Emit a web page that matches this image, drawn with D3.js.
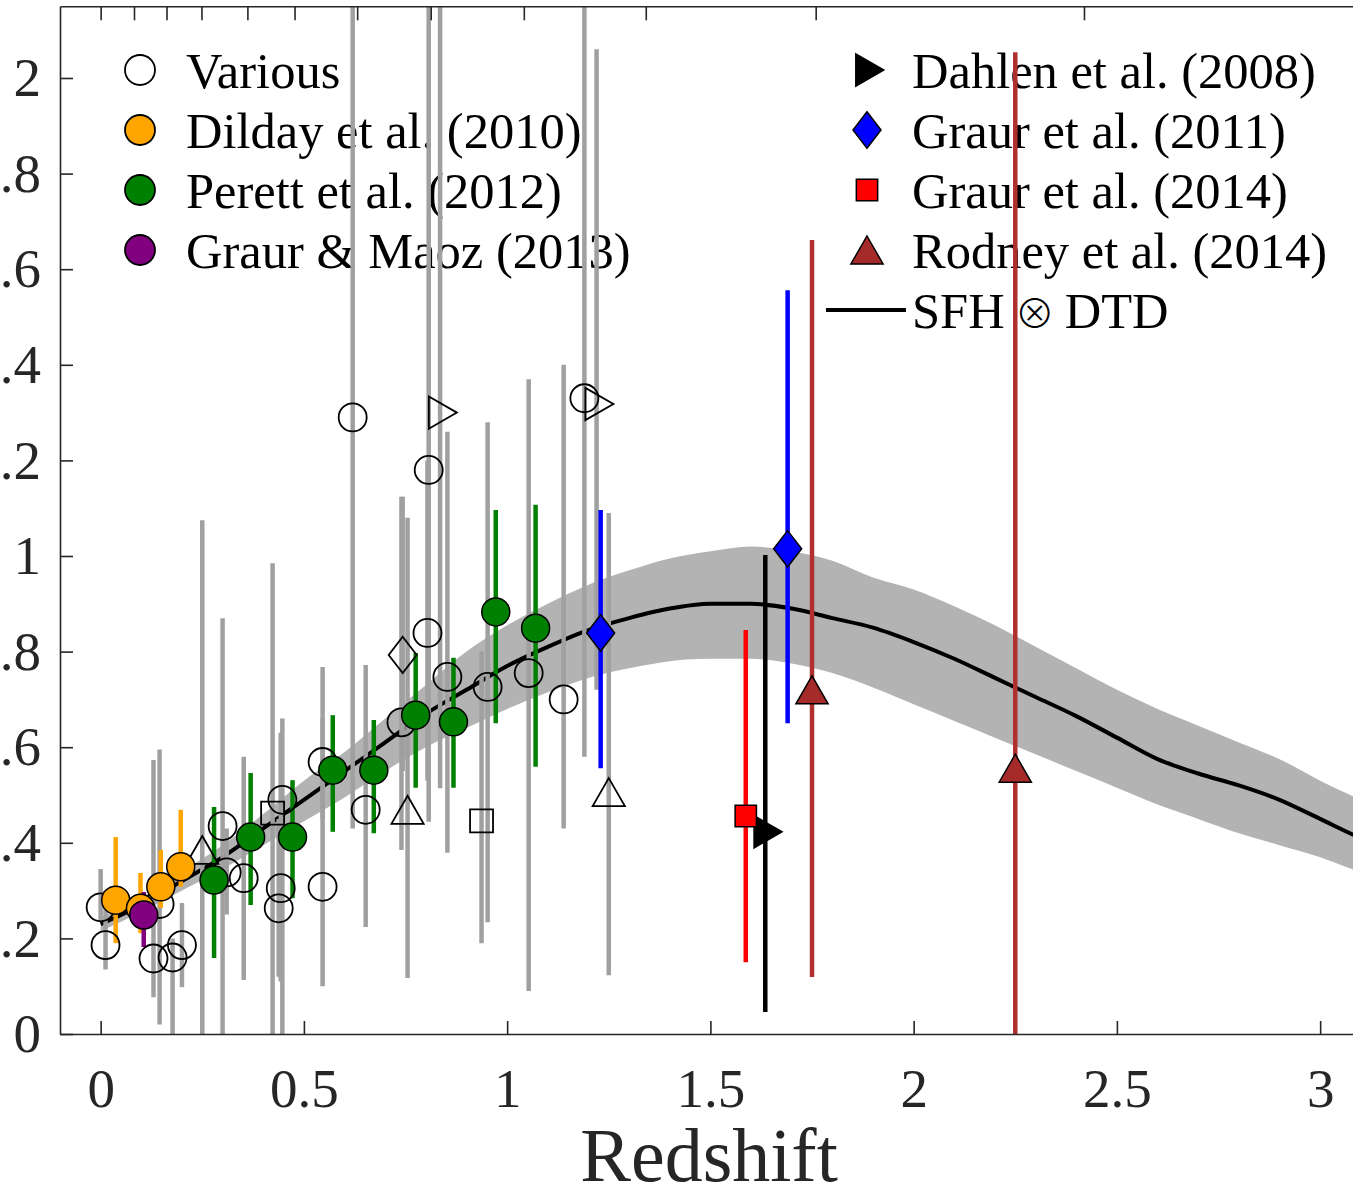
<!DOCTYPE html>
<html>
<head>
<meta charset="utf-8">
<script src="https://cdn.jsdelivr.net/npm/d3@7"></script>
<style>
  body { margin: 0; background: #fff; }
  svg { display: block; }
</style>
</head>
<body>
<div id="my_dataviz"></div>
<script>
// ---------------------------  DATA  ---------------------------

// SFH (x) DTD model: redshift grid, median and 1-sigma band
const modelZ   = [0, 0.1, 0.2, 0.3, 0.4, 0.5, 0.6, 0.7, 0.8, 0.9, 1.0, 1.1, 1.2, 1.3, 1.4, 1.5, 1.6,
                  1.7, 1.8, 1.9, 2.0, 2.1, 2.2, 2.3, 2.4, 2.5, 2.6, 2.7, 2.8, 2.9, 3.0, 3.1, 3.2];
const modelMid = [0.23, 0.27, 0.32, 0.37, 0.43, 0.49, 0.55, 0.61, 0.67, 0.72, 0.77, 0.81, 0.845, 0.87, 0.89, 0.90, 0.90,
                  0.89, 0.87, 0.85, 0.82, 0.785, 0.745, 0.705, 0.665, 0.62, 0.575, 0.545, 0.52, 0.49, 0.45, 0.41, 0.38];
const modelLo  = [0.215, 0.255, 0.30, 0.345, 0.395, 0.445, 0.495, 0.55, 0.60, 0.64, 0.68, 0.715, 0.745, 0.765, 0.78, 0.785, 0.785,
                  0.775, 0.755, 0.725, 0.69, 0.655, 0.62, 0.585, 0.55, 0.515, 0.48, 0.45, 0.42, 0.395, 0.37, 0.338, 0.31];
const modelHi  = [0.245, 0.285, 0.34, 0.395, 0.46, 0.53, 0.59, 0.66, 0.73, 0.80, 0.855, 0.90, 0.94, 0.97, 0.995, 1.01, 1.02,
                  1.01, 0.99, 0.955, 0.93, 0.895, 0.855, 0.81, 0.765, 0.72, 0.68, 0.645, 0.61, 0.575, 0.53, 0.49, 0.455];

// measurements: [redshift, rate, lower, upper]
const variousCircles = [
  [0.00, 0.265, 0.235, 0.345], [0.012, 0.186, 0.135, 0.30], [0.13, 0.158, 0.077, 0.573],
  [0.145, 0.272, 0.02, 0.595], [0.177, 0.160, -0.1, 0.20], [0.20, 0.186, 0.098, 0.274],
  [0.30, 0.435, -0.1, 0.87], [0.31, 0.338, 0.25, 0.43], [0.352, 0.326, 0.113, 0.58],
  [0.447, 0.490, -0.1, 0.66], [0.443, 0.305, 0.11, 0.63], [0.438, 0.263, 0.12, 0.45],
  [0.546, 0.308, 0.10, 0.768], [0.546, 0.569, 0.45, 0.66], [0.62, 1.29, 0.43, 3.0],
  [0.652, 0.469, 0.224, 0.772], [0.74, 0.652, 0.385, 1.124], [0.807, 1.18, 0.444, 3.0],
  [0.804, 0.839, 0.53, 1.20], [0.853, 0.747, 0.379, 1.26], [0.952, 0.726, 0.234, 1.28],
  [1.053, 0.755, 0.09, 1.37], [1.139, 0.70, 0.43, 1.40], [1.19, 1.33, 0.58, 3.0]
];
const variousTriangles = [[0.25, 0.385, -0.1, 1.075], [0.755, 0.469, 0.117, 1.08], [1.25, 0.506, 0.123, 1.09]];
const variousSquares   = [[0.423, 0.462, -0.1, 0.985], [0.937, 0.446, 0.19, 0.80]];
const variousDiamonds  = [[0.743, 0.793, 0.55, 1.124]];
const variousRight     = [[0.835, 1.30, 0.514, 3.0], [1.22, 1.318, 0.72, 2.06]];

const dilday = [[0.037, 0.28, 0.19, 0.412], [0.098, 0.263, 0.211, 0.337], [0.148, 0.308, 0.264, 0.385], [0.197, 0.35, 0.308, 0.469]];
const perrett = [
  [0.279, 0.322, 0.159, 0.475], [0.369, 0.412, 0.27, 0.546], [0.472, 0.412, 0.284, 0.531],
  [0.571, 0.552, 0.423, 0.667], [0.672, 0.552, 0.42, 0.657], [0.775, 0.667, 0.515, 0.797],
  [0.868, 0.653, 0.515, 0.787], [0.972, 0.883, 0.65, 1.096], [1.07, 0.849, 0.559, 1.107]
];
const graurMaoz = [[0.106, 0.249, 0.182, 0.297]];
const dahlen    = [[1.635, 0.423, 0.046, 1.002]];
const graur2011 = [[1.23, 0.839, 0.556, 1.096], [1.69, 1.015, 0.65, 1.556]];
const graur2014 = [[1.587, 0.456, 0.15, 0.845]];
const rodney    = [[1.75, 0.72, 0.119, 1.661], [2.25, 0.556, -0.1, 2.054]];

// axes
const xTicks = [0, 0.5, 1, 1.5, 2, 2.5, 3];
const yTicks = [0, 0.2, 0.4, 0.6, 0.8, 1, 1.2, 1.4, 1.6, 1.8, 2];
const topTicks = [0, 0.082, 0.162, 0.248, 0.361, 0.477, 0.631, 0.812, 1.041, 1.341, 1.759, 2.419];   // lookback time, 0..11 Gyr

const legendLeft  = ["Various", "Dilday et al. (2010)", "Perett et al. (2012)", "Graur & Maoz (2013)"];
const legendRight = ["Dahlen et al. (2008)", "Graur et al. (2011)", "Graur et al. (2014)", "Rodney et al. (2014)"];
const modelLabel  = ["SFH", "\u2297", "DTD"];
const xLabel = "Redshift";


// ---------------------------  PLOT  ---------------------------
const W = 1353, H = 1188;
const FONT = "'Liberation Serif', 'Times New Roman', serif";

const svg = d3.select("#my_dataviz")
    .append("svg")
        .attr("width", W)
        .attr("height", H)
        .style("background", "#fff");

// plot box: left edge at z=-0.1, right edge runs past the picture
const x = d3.scaleLinear().domain([-0.1, 3.2]).range([60, 60 + 3.3 * 406.5]);
const y = d3.scaleLinear().domain([0, 2.15]).range([1034, 1034 - 2.15 * 478]);

const x0 = x.range()[0], x1 = x.range()[1], yB = y.range()[0], yT = y.range()[1];

svg.append("clipPath").attr("id", "clip")
    .append("rect")
        .attr("x", x0).attr("y", yT)
        .attr("width", x1 - x0).attr("height", yB - yT);

// marker shapes, centred on the point
const shapes = {
  circle:   r => { const p = d3.path(); p.arc(0, 0, r, 0, 2 * Math.PI); p.closePath(); return p.toString(); },
  triangle: r => `M0,${-r}L${r * 1.15},${r}L${-r * 1.15},${r}Z`,
  right:    r => `M${-r * 0.8},${-r * 1.15}L${r * 1.2},0L${-r * 0.8},${r * 1.15}Z`,
  diamond:  r => `M0,${-r * 1.3}L${r},0L0,${r * 1.3}L${-r},0Z`,
  square:   r => `M${-r * 0.82},${-r * 0.82}H${r * 0.82}V${r * 0.82}H${-r * 0.82}Z`
};


// ---- legends (drawn first, data lines cross over them)
const legend = svg.append("g")
    .attr("font-family", FONT)
    .attr("font-size", 50.5)
    .attr("fill", "#000");

const leftMarks = [
  {shape: "circle", fill: "none"}, {shape: "circle", fill: "#ffa500"},
  {shape: "circle", fill: "#008000"}, {shape: "circle", fill: "#800080"}
];
legendLeft.forEach((label, i) => {
    const cy = 70 + i * 60;
    legend.append("path")
        .attr("transform", `translate(140,${cy})`)
        .attr("d", shapes[leftMarks[i].shape](15))
        .attr("fill", leftMarks[i].fill)
        .attr("stroke", "#000").attr("stroke-width", 1.8);
    legend.append("text").attr("x", 186).attr("y", cy + 18).text(label);
});

const rightMarks = [
  {shape: "right", fill: "#000"}, {shape: "diamond", fill: "#0000ff"},
  {shape: "square", fill: "#ff0000"}, {shape: "triangle", fill: "#a52a2a"}
];
legendRight.forEach((label, i) => {
    const cy = 70 + i * 60;
    legend.append("path")
        .attr("transform", `translate(867,${cy})`)
        .attr("d", shapes[rightMarks[i].shape](i === 2 ? 13 : 14))
        .attr("fill", rightMarks[i].fill)
        .attr("stroke", "#000").attr("stroke-width", 1.5);
    legend.append("text").attr("x", 912).attr("y", cy + 18).text(label);
});

// model entry: line sample + "SFH (x) DTD" with a thin circled times
const cyModel = 70 + 4 * 60;
legend.append("line")
    .attr("x1", 826).attr("x2", 906)
    .attr("y1", cyModel).attr("y2", cyModel)
    .attr("stroke", "#000").attr("stroke-width", 4);
const modelText = legend.append("text").attr("x", 912).attr("y", cyModel + 18);
modelText.append("tspan").text(modelLabel[0]);
modelText.append("tspan")
    .attr("dx", 10)
    .attr("font-family", "'Noto Sans CJK JP', 'DejaVu Serif', serif")
    .attr("font-size", 40)
    .attr("font-weight", 300)
    .text(modelLabel[1]);
modelText.append("tspan").attr("dx", 10).text(modelLabel[2]);


// ---- data layer (clipped to the axes box)
const plot = svg.append("g").attr("clip-path", "url(#clip)");

const model = modelZ.map((z, i) => ({z: z, mid: modelMid[i], lo: modelLo[i], hi: modelHi[i]}));

plot.append("path")
    .datum(model)
    .attr("fill", "#b3b3b3")
    .attr("d", d3.area()
        .curve(d3.curveMonotoneX)
        .x(d => x(d.z)).y0(d => y(d.lo)).y1(d => y(d.hi)));

plot.append("path")
    .datum(model)
    .attr("fill", "none")
    .attr("stroke", "#000")
    .attr("stroke-width", 4)
    .attr("d", d3.line()
        .curve(d3.curveMonotoneX)
        .x(d => x(d.z)).y(d => y(d.mid)));

const series = [
  {data: variousCircles,   shape: "circle",   r: 14, fill: "none",    bar: "#a0a0a0"},
  {data: variousTriangles, shape: "triangle", r: 14, fill: "none",    bar: "#a0a0a0"},
  {data: variousSquares,   shape: "square",   r: 14, fill: "none",    bar: "#a0a0a0"},
  {data: variousDiamonds,  shape: "diamond",  r: 14, fill: "none",    bar: "#a0a0a0"},
  {data: variousRight,     shape: "right",    r: 14, fill: "none",    bar: "#a0a0a0"},
  {data: dilday,           shape: "circle",   r: 14, fill: "#ffa500", bar: "#ffa500"},
  {data: perrett,          shape: "circle",   r: 14, fill: "#008000", bar: "#008000"},
  {data: graurMaoz,        shape: "circle",   r: 14, fill: "#800080", bar: "#800080"},
  {data: dahlen,           shape: "right",    r: 14, fill: "#000",    bar: "#000"},
  {data: graur2011,        shape: "diamond",  r: 14, fill: "#0000ff", bar: "#0000ff"},
  {data: graur2014,        shape: "square",   r: 13, fill: "#ff0000", bar: "#ff0000"},
  {data: rodney,           shape: "triangle", r: 14, fill: "#a52a2a", bar: "#b03030"}
];

// error bars first, markers on top
series.forEach(s => {
    plot.append("g").selectAll("line")
        .data(s.data)
        .join("line")
            .attr("x1", d => x(d[0])).attr("x2", d => x(d[0]))
            .attr("y1", d => y(d[2])).attr("y2", d => y(d[3]))
            .attr("stroke", s.bar)
            .attr("stroke-width", 4.5);
});

series.forEach(s => {
    plot.append("g").selectAll("path")
        .data(s.data)
        .join("path")
            .attr("transform", d => `translate(${x(d[0])},${y(d[1])})`)
            .attr("d", shapes[s.shape](s.r))
            .attr("fill", s.fill)
            .attr("stroke", "#000")
            .attr("stroke-width", s.fill === "none" ? 1.8 : 1.5);
});


// ---- axes
const axisColor = "#262626";

function styleAxis(g) {
    g.attr("font-family", FONT).attr("font-size", 55);
    g.select(".domain").attr("stroke", axisColor).attr("stroke-width", 1.6);
    g.selectAll(".tick line").attr("stroke", axisColor).attr("stroke-width", 1.6);
    g.selectAll(".tick text").attr("fill", axisColor);
}

svg.append("g")
    .attr("transform", `translate(0,${yB})`)
    .call(d3.axisBottom(x).tickValues(xTicks).tickFormat(d3.format("~g"))
        .tickSizeInner(-13).tickSizeOuter(0).tickPadding(34))
    .call(styleAxis);

svg.append("g")
    .attr("transform", `translate(${x0},0)`)
    .call(d3.axisLeft(y).tickValues(yTicks).tickFormat(d3.format("~g"))
        .tickSizeInner(-13).tickSizeOuter(0).tickPadding(19))
    .call(styleAxis);

svg.append("g")
    .attr("transform", `translate(0,${yT})`)
    .call(d3.axisTop(x).tickValues(topTicks).tickFormat("")
        .tickSizeInner(-14).tickSizeOuter(0))
    .call(styleAxis);

svg.append("line")
    .attr("x1", x1).attr("x2", x1).attr("y1", yT).attr("y2", yB)
    .attr("stroke", axisColor).attr("stroke-width", 1.6);

svg.append("text")
    .attr("x", 709)
    .attr("y", 1181)
    .attr("text-anchor", "middle")
    .attr("font-family", FONT)
    .attr("font-size", 76)
    .attr("fill", axisColor)
    .text(xLabel);
</script>
</body>
</html>
